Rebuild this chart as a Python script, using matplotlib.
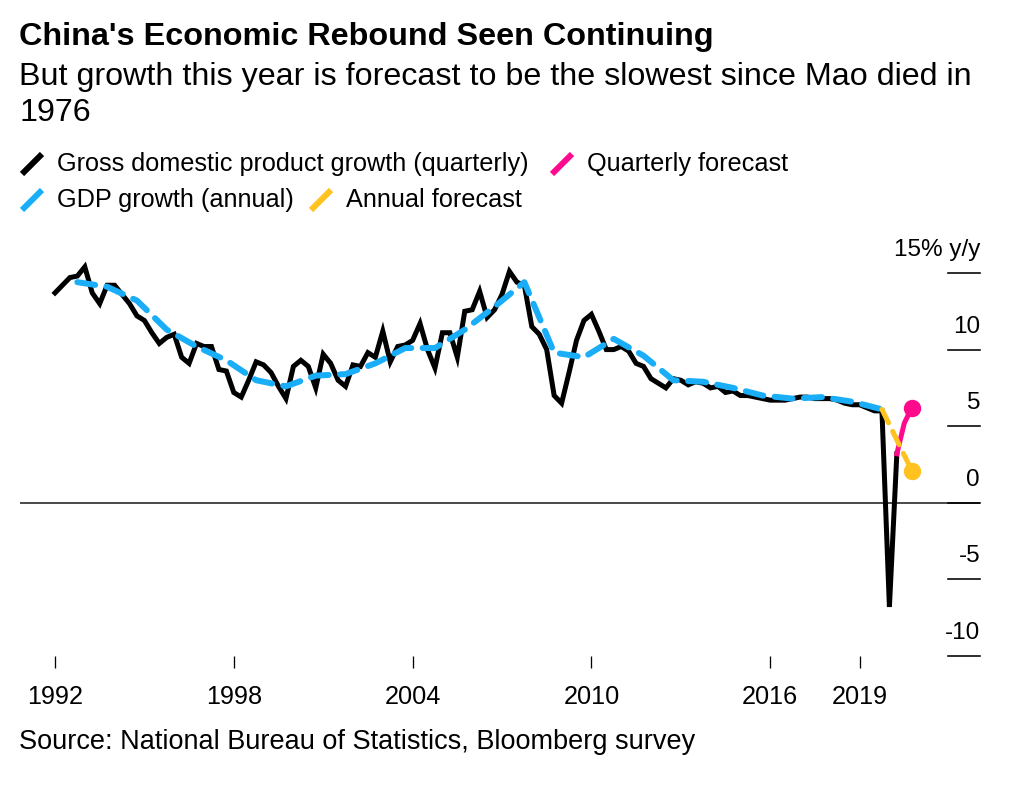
import numpy as np
import matplotlib.pyplot as plt

plt.rcParams['font.family'] = ['Liberation Sans', 'DejaVu Sans']

W, H = 1010, 790
PT = 0.72  # points per pixel at dpi 100

# China real GDP, % y/y
# quarterly, 1992 Q1 .. 2020 Q2
gdp_q = [13.7, 14.2, 14.7, 14.8,
         15.4, 13.7, 13.0, 14.2,
         14.2, 13.6, 13.0, 12.2,
         11.9, 11.1, 10.4, 10.8,
         11.0, 9.5, 9.1, 10.4,
         10.2, 10.2, 8.7, 8.6,
         7.2, 6.9, 8.0, 9.2,
         9.0, 8.5, 7.6, 6.8,
         8.9, 9.3, 8.9, 7.5,
         9.7, 9.1, 8.0, 7.6,
         9.0, 8.9, 9.8, 9.5,
         11.2, 9.2, 10.2, 10.3,
         10.6, 11.7, 10.0, 8.8,
         11.1, 11.1, 9.5, 12.5,
         12.6, 13.8, 12.1, 12.6,
         13.6, 15.1, 14.4, 14.2,
         11.5, 11.0, 10.0, 7.0,
         6.5, 8.5, 10.6, 11.9,
         12.3, 11.2, 10.0, 10.0,
         10.2, 9.9, 9.1, 8.9,
         8.1, 7.8, 7.5, 8.1,
         8.0, 7.7, 7.9, 7.8,
         7.5, 7.6, 7.2, 7.3,
         7.0, 7.0, 6.9, 6.8,
         6.7, 6.7, 6.7, 6.8,
         6.9, 6.9, 6.8, 6.8,
         6.8, 6.7, 6.5, 6.4,
         6.4, 6.2, 6.0, 6.0,
         -6.8, 3.2]
first_year = 1992

# annual, 1992 .. 2019
annual_years = list(range(1992, 2020))
gdp_a = [14.4, 14.1, 13.2, 11.3, 10.2, 9.3, 8.0, 7.6, 8.3, 8.4,
         9.1, 10.1, 10.1, 11.3, 12.8, 14.4, 9.8, 9.5, 10.7, 9.6,
         8.0, 7.9, 7.5, 7.0, 6.8, 6.9, 6.6, 6.1]

# forecasts
fc_q_labels = ['2020 Q2', '2020 Q3', '2020 Q4']
fc_q = [3.2, 5.2, 6.2]
fc_a_years = [2019, 2020]
fc_a = [6.1, 2.1]

yticks = [-10, -5, 0, 5, 10, 15]
ytick_labels = ['-10', '-5', '0', '5', '10', '15% y/y']
xticks = [1992, 1998, 2004, 2010, 2016, 2019]

BLACK = '#000000'
BLUE = '#1AADF8'
PINK = '#FF0A8C'
YELLOW = '#FFC21F'

q_x = first_year + np.arange(len(gdp_q)) / 4
a_x = np.array(annual_years) + 0.75
fcq_x = 2020 + np.array([1, 2, 3]) / 4
fca_x = np.array(fc_a_years) + 0.75

fig = plt.figure(figsize=(W / 100, H / 100), dpi=100)

# overlay in pixel coordinates for headings and legend
ov = fig.add_axes([0, 0, 1, 1])
ov.set_xlim(0, W)
ov.set_ylim(H, 0)
ov.axis('off')

ov.text(19, 37, "China's Economic Rebound Seen Continuing", fontsize=23.3,
        fontweight='bold', va='center', ha='left')
ov.text(19, 77, "But growth this year is forecast to be the slowest since Mao died in",
        fontsize=23.2, va='center', ha='left')
ov.text(19, 113, "1976", fontsize=23.2, va='center', ha='left')

legend = [("Gross domestic product growth (quarterly)", BLACK, 22, 164),
          ("Quarterly forecast", PINK, 552, 164),
          ("GDP growth (annual)", BLUE, 22, 200),
          ("Annual forecast", YELLOW, 311, 200)]
for label, col, x0, yc in legend:
    ov.plot([x0, x0 + 20], [yc + 10, yc - 10], color=col, lw=6 * PT,
            solid_capstyle='butt')
    ov.text(x0 + 35, yc, label, fontsize=18.2, va='center', ha='left')

ov.text(19, 742, "Source: National Bureau of Statistics, Bloomberg survey",
        fontsize=19.5, va='center', ha='left')

# main chart
ax = fig.add_axes([20 / W, (H - 656) / H, 960 / W, 406 / H])
ax.set_xlim(1992 + (20 - 55) / 29.8, 1992 + (980 - 55) / 29.8)
ax.set_ylim(-10, 16.5)
ax.patch.set_alpha(0)
for s in ax.spines.values():
    s.set_visible(False)

ax.axhline(0, color='#222222', lw=1.6 * PT, zorder=1)

ax.plot(q_x, gdp_q, color=BLACK, lw=5 * PT, solid_joinstyle='miter',
        zorder=2, clip_on=False)
ax.plot(a_x, gdp_a, color=BLUE, lw=6 * PT, dashes=(3.0, 1.9),
        dash_capstyle='round', zorder=3, clip_on=False)
ax.plot(np.r_[q_x[-1], fcq_x[1:]], fc_q, color=PINK, lw=5 * PT, zorder=4,
        clip_on=False)
ax.plot(fcq_x[-1], fc_q[-1], 'o', color=PINK, ms=16 * PT, zorder=4,
        clip_on=False)
ax.plot(fca_x, fc_a, color=YELLOW, lw=5 * PT, dashes=(3.0, 1.9),
        dash_capstyle='round', zorder=4, clip_on=False)
ax.plot(fca_x[-1], fc_a[-1], 'o', color=YELLOW, ms=16 * PT, zorder=4,
        clip_on=False)

# right-hand value ticks: short rule with the label sitting above it
ytr = ax.get_yaxis_transform()
for v, lab in zip(yticks, ytick_labels):
    ax.plot([(948 - 20) / 960, 1.0], [v, v], color=BLACK, lw=1.6 * PT,
            transform=ytr, clip_on=False, zorder=5)
    ax.annotate(lab, xy=(1.0, v), xycoords=ytr, xytext=(0, 17 * PT),
                textcoords='offset points', ha='right', va='baseline',
                fontsize=17.5)
ax.set_yticks([])

ax.set_xticks(xticks)
ax.set_xticklabels([str(x) for x in xticks], fontsize=18.2)
ax.tick_params(axis='x', direction='out', length=12 * PT, width=1.3 * PT,
               pad=17 * PT, color=BLACK)

fig.savefig('out.png', dpi=100)
